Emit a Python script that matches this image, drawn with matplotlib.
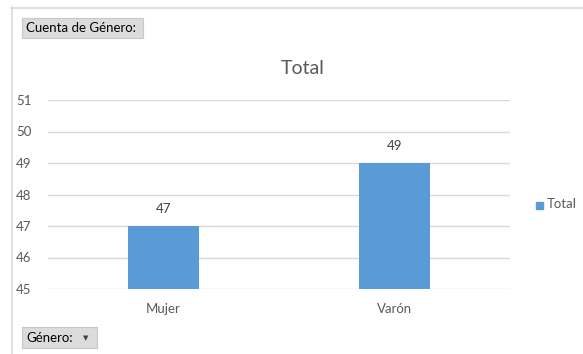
import matplotlib
matplotlib.use("Agg")
import matplotlib.pyplot as plt
from matplotlib.patches import FancyBboxPatch, Rectangle
from matplotlib.lines import Line2D

categories = ["Mujer", "Varón"]
values = [47, 49]
yticks = [45, 46, 47, 48, 49, 50, 51]
series_name = "Total"

plt.rcParams["font.family"] = ["Lato", "DejaVu Sans"]
W, H = 583, 354
fig = plt.figure(figsize=(W / 100, H / 100), dpi=100)
fig.patch.set_facecolor("white")

def fx(x):
    return x / W

def fy(y):
    return 1 - y / H

# outer frame lines (top and left)
fig.add_artist(Line2D([fx(11), fx(583)], [fy(7.5), fy(7.5)], color="#D9D9D9", lw=1.2))
fig.add_artist(Line2D([fx(11.5), fx(11.5)], [fy(7), fy(354)], color="#D9D9D9", lw=1.2))

ax = fig.add_axes([fx(48), fy(289), fx(510) - fx(48), fy(100) - fy(289)])
x = range(len(categories))
bars = ax.bar(x, values, width=0.31, color="#5B9BD5", label=series_name, zorder=3)
ax.set_xlim(-0.5, len(categories) - 0.5)
ax.set_ylim(yticks[0], yticks[-1])
ax.set_yticks(yticks)
ax.set_xticks(list(x))
ax.set_xticklabels(categories)
ax.grid(axis="y", color="#D9D9D9", lw=1, zorder=0)
for s in ax.spines.values():
    s.set_visible(False)
ax.tick_params(axis="both", length=0, colors="#595959", labelsize=9.5)
ax.tick_params(axis="y", pad=12)
ax.tick_params(axis="x", pad=10)
for b, v in zip(bars, values):
    ax.annotate(f"{v}", (b.get_x() + b.get_width() / 2, v), xytext=(0, 8),
                textcoords="offset points", ha="center", va="bottom",
                fontsize=9.5, color="#404040")

fig.text(fx(303), fy(68), "Total", ha="center", va="center", fontsize=14, color="#595959")

# legend
fig.add_artist(Rectangle((fx(536), fy(208.5)), fx(7), 7 / H, color="#5B9BD5"))
fig.text(fx(547), fy(204), series_name, ha="left", va="center", fontsize=9.5, color="#595959")

# field buttons
def button(x0, y0, x1, y1, text):
    fig.add_artist(FancyBboxPatch((fx(x0), fy(y1)), fx(x1 - x0), (y1 - y0) / H,
                                  boxstyle="square,pad=0", facecolor="#DCDCDC",
                                  edgecolor="#C8C8C8", lw=0.8))
    fig.text(fx(x0 + 4), fy((y0 + y1) / 2), text, ha="left", va="center",
             fontsize=9.5, color="#000000")

button(22, 18, 143, 38, "Cuenta de Género:")
button(22, 327, 97, 348, "Género:")
fig.text(fx(86), fy(338), "▼", ha="center", va="center", fontsize=5, color="#404040",
         family="DejaVu Sans")

fig.savefig("out.png", dpi=100)
